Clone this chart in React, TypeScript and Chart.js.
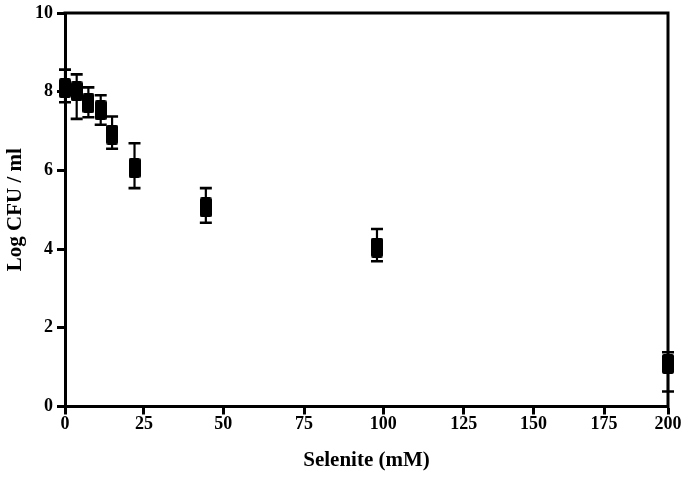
import React, { useEffect, useRef } from 'react';
import { Chart, registerables, LinearScale } from 'chart.js';

Chart.register(...registerables);

// ---- data ----
const seleniteMM = [0, 3.7, 7.4, 11.3, 14.9, 22, 44.5, 98, 200];
const logCfuMean = [8.09, 8.01, 7.71, 7.53, 6.91, 6.06, 5.06, 4.04, 1.08];
const logCfuUpper = [8.56, 8.44, 8.11, 7.91, 7.37, 6.69, 5.55, 4.51, 1.38];
const logCfuLower = [7.73, 7.31, 7.35, 7.16, 6.55, 5.55, 4.67, 3.69, 0.38];

// ---- axis ticks ----
const xTickValues = [0, 25, 50, 75, 100, 125, 150, 175, 200];
const yTickValues = [0, 2, 4, 6, 8, 10];
// the original x axis is not evenly spaced beyond 100: tick value -> fraction of axis length
const xAxisTickFractions = [0, 0.131, 0.2625, 0.3964, 0.5279, 0.6612, 0.7771, 0.8939, 1];

class PiecewiseLinearScale extends LinearScale {
  static id = 'piecewiseLinear';
  static defaults = {};
  valueToFraction(v: number): number {
    const k = xTickValues;
    const f = xAxisTickFractions;
    if (v <= k[0]) return f[0] + ((v - k[0]) / (k[1] - k[0])) * (f[1] - f[0]);
    for (let i = 1; i < k.length; i++) {
      if (v <= k[i]) {
        const t = (v - k[i - 1]) / (k[i] - k[i - 1]);
        return f[i - 1] + t * (f[i] - f[i - 1]);
      }
    }
    const n = k.length - 1;
    return f[n] + ((v - k[n]) / (k[n] - k[n - 1])) * (f[n] - f[n - 1]);
  }
  fractionToValue(d: number): number {
    const k = xTickValues;
    const f = xAxisTickFractions;
    for (let i = 1; i < f.length; i++) {
      if (d <= f[i] || i === f.length - 1) {
        const t = (d - f[i - 1]) / (f[i] - f[i - 1]);
        return k[i - 1] + t * (k[i] - k[i - 1]);
      }
    }
    return k[k.length - 1];
  }
  getPixelForValue(value: any): number {
    if (value === null || value === undefined || isNaN(value)) return NaN;
    return this.getPixelForDecimal(this.valueToFraction(+value));
  }
  getValueForPixel(pixel: number): number {
    return this.fractionToValue(this.getDecimalForPixel(pixel));
  }
}
Chart.register(PiecewiseLinearScale);

const FONT = 'Liberation Serif, Times New Roman, serif';

export default function App() {
  const ref = useRef<HTMLCanvasElement>(null);

  useEffect(() => {
    const marker = document.createElement('canvas');
    marker.width = 12;
    marker.height = 20;
    const mctx = marker.getContext('2d')!;
    mctx.fillStyle = '#000';
    mctx.beginPath();
    if ((mctx as any).roundRect) (mctx as any).roundRect(0, 0, 12, 20, 2);
    else mctx.rect(0, 0, 12, 20);
    mctx.fill();

    const errorBars = {
      id: 'errorBars',
      beforeDatasetsDraw(chart: any) {
        const ctx = chart.ctx;
        const xs = chart.scales.x;
        const ys = chart.scales.y;
        ctx.save();
        ctx.strokeStyle = '#000';
        seleniteMM.forEach((v, i) => {
          const px = xs.getPixelForValue(v);
          const top = ys.getPixelForValue(logCfuUpper[i]);
          const bot = ys.getPixelForValue(logCfuLower[i]);
          ctx.lineWidth = 2.2;
          ctx.beginPath();
          ctx.moveTo(px, top);
          ctx.lineTo(px, bot);
          ctx.stroke();
          ctx.lineWidth = 2.6;
          ctx.beginPath();
          ctx.moveTo(px - 6, top);
          ctx.lineTo(px + 6, top);
          ctx.moveTo(px - 6, bot);
          ctx.lineTo(px + 6, bot);
          ctx.stroke();
        });
        ctx.restore();
      },
    };

    const frame = {
      id: 'frame',
      afterDraw(chart: any) {
        const { left, right, top, bottom } = chart.chartArea;
        const ctx = chart.ctx;
        ctx.save();
        ctx.strokeStyle = '#000';
        ctx.lineWidth = 3;
        ctx.beginPath();
        ctx.moveTo(left - 1.5, top);
        ctx.lineTo(right, top);
        ctx.lineTo(right, bottom + 1.5);
        ctx.stroke();
        ctx.restore();
      },
    };

    const chart = new Chart(ref.current!, {
      type: 'scatter',
      data: {
        datasets: [
          {
            data: seleniteMM.map((x, i) => ({ x, y: logCfuMean[i] })),
            pointStyle: marker as any,
            pointRadius: 6,
            pointHoverRadius: 6,
            showLine: false,
            clip: false as any,
          },
        ],
      },
      options: {
        animation: false,
        responsive: false,
        layout: { padding: { top: 9, right: 17, left: 0, bottom: 0 } },
        plugins: { legend: { display: false }, tooltip: { enabled: false } },
        scales: {
          x: {
            type: 'piecewiseLinear' as any,
            min: 0,
            max: 200,
            afterFit: (s: any) => {
              s.height = 78.5;
            },
            afterBuildTicks: (s: any) => {
              s.ticks = xTickValues.map((value) => ({ value }));
            },
            ticks: {
              autoSkip: false,
              maxRotation: 0,
              padding: 1,
              color: '#000',
              font: { family: FONT, weight: 'bold', size: 18, lineHeight: 1 },
            },
            grid: {
              display: true,
              drawOnChartArea: false,
              drawTicks: true,
              tickLength: 8,
              tickWidth: 3,
              color: '#000',
            },
            border: { display: true, width: 3, color: '#000' },
            title: {
              display: true,
              text: 'Selenite (mM)',
              color: '#000',
              font: { family: FONT, weight: 'bold', size: 21, lineHeight: 1.2 },
              padding: { top: 0, bottom: 12 },
            },
          } as any,
          y: {
            type: 'linear',
            min: 0,
            max: 10,
            afterFit: (s: any) => {
              s.width = 65;
            },
            afterBuildTicks: (s: any) => {
              s.ticks = yTickValues.map((value) => ({ value }));
            },
            ticks: {
              padding: 4,
              color: '#000',
              font: { family: FONT, weight: 'bold', size: 18, lineHeight: 1 },
            },
            grid: {
              display: true,
              drawOnChartArea: false,
              drawTicks: true,
              tickLength: 8,
              tickWidth: 3,
              color: '#000',
            },
            border: { display: true, width: 3, color: '#000' },
            title: {
              display: true,
              text: 'Log CFU / ml',
              color: '#000',
              font: { family: FONT, weight: 'bold', size: 21, lineHeight: 1.2 },
              padding: { top: 3, bottom: 0 },
            },
          },
        },
      },
      plugins: [errorBars, frame],
    });
    return () => chart.destroy();
  }, []);

  return (
    <div style={{ position: 'fixed', left: 0, top: 0, width: 685, height: 485, background: '#fff' }}>
      <canvas ref={ref} width={685} height={485} style={{ display: 'block' }} />
    </div>
  );
}
